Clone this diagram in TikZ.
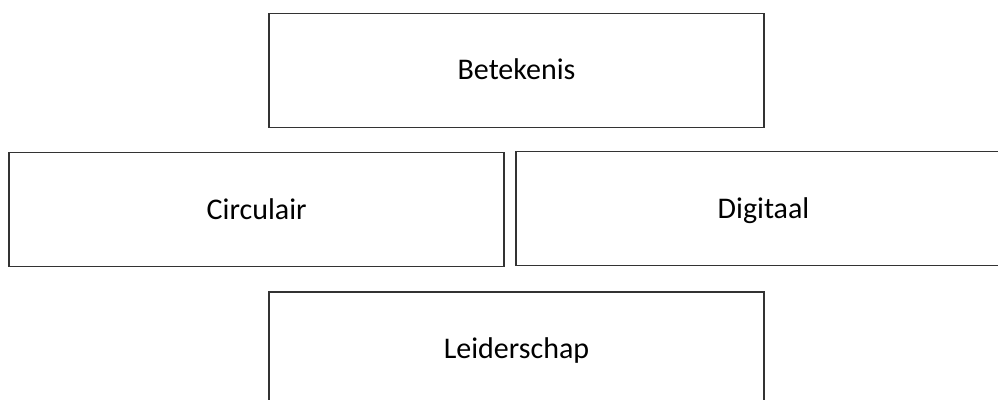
\documentclass[tikz,border=0pt]{standalone}
\usepackage{fontspec}
\setmainfont{Carlito}
\begin{document}
\begin{tikzpicture}[x=1pt,y=-1pt,
  tile/.style={draw=black!80, line width=1.6pt, fill=white,
    minimum width=495pt, minimum height=114pt, inner sep=0pt,
    text height=19.3pt, text depth=0pt,
    font=\fontsize{30}{36}\selectfont}]
  \useasboundingbox (0,0) rectangle (998,399);
  \clip (0,0) rectangle (998,399);
  \node[tile] (betekenis)   at (516.5,70.3)  {Betekenis};
  \node[tile] (circulair)   at (256.7,209.5) {Circulair};
  \node[tile] (digitaal)    at (763.5,208.5) {Digitaal};
  \node[tile] (leiderschap) at (516.5,348.9) {Leiderschap};
\end{tikzpicture}
\end{document}
